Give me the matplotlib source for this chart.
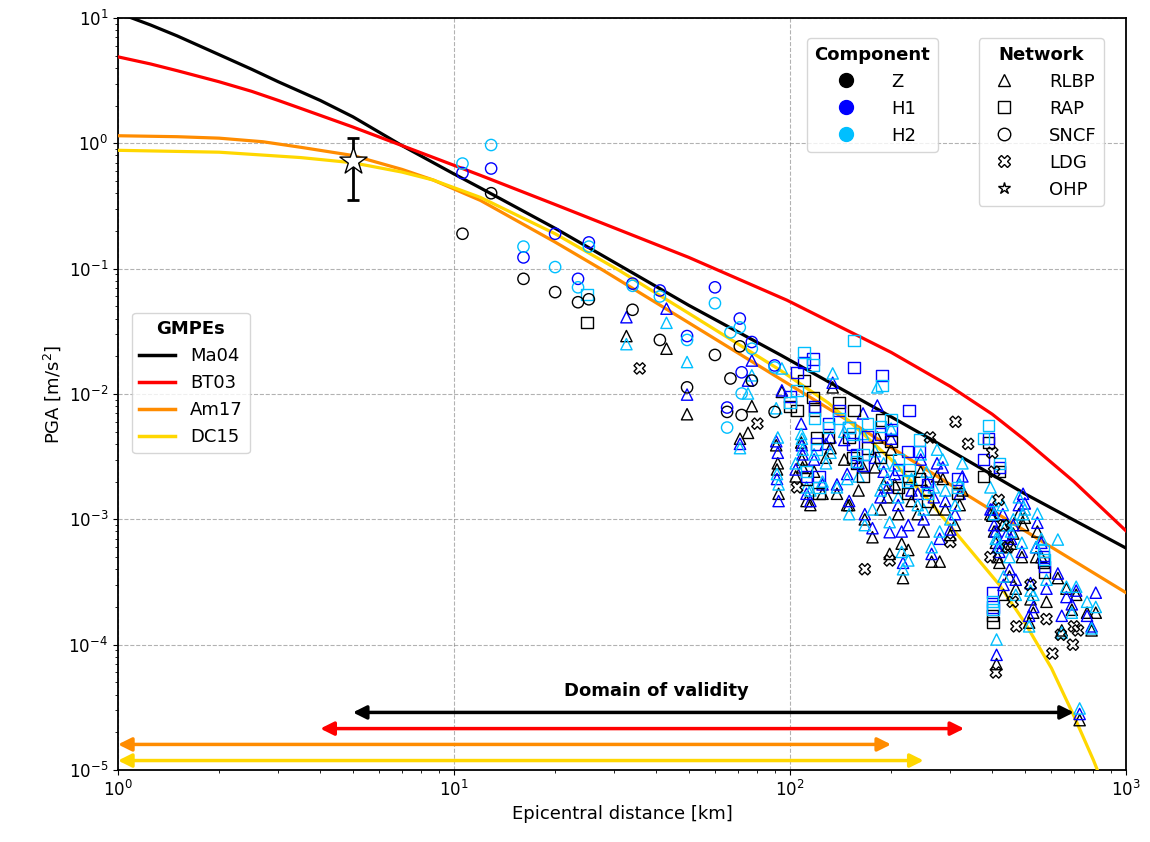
import numpy as np
import matplotlib
matplotlib.use('Agg')
import matplotlib.pyplot as plt
from matplotlib.lines import Line2D
from matplotlib.patches import FancyArrowPatch

nan = np.nan

# GMPE curves
ma04_x = [1, 1.25, 1.5, 2, 2.5, 3, 4, 5, 7, 10, 12, 20, 33, 50, 94, 185, 261, 500, 1000]
ma04_y = [11, 8.8, 7.2, 5.1, 3.9, 3.1, 2.2, 1.63, 0.96, 0.57, 0.44, 0.21, 0.097, 0.051, 0.0204, 0.0074, 0.0044,
          0.0016, 0.00059]

bt03_x = [1, 1.25, 1.5, 2, 2.5, 3, 3.5, 5, 7, 12, 20, 50, 98, 200, 300, 400, 500, 700, 1000]
bt03_y = [4.9, 4.3, 3.8, 3.1, 2.6, 2.2, 1.9, 1.35, 0.96, 0.555, 0.325, 0.123, 0.056, 0.0215, 0.0115, 0.0069,
          0.0043, 0.0020, 0.00081]

am17_x = [1, 1.5, 2, 2.7, 3.5, 5, 7, 8.67, 12, 20, 27.8, 50, 93.5, 161, 320, 594, 1000]
am17_y = [1.15, 1.13, 1.10, 1.03, 0.93, 0.80, 0.62, 0.51, 0.35, 0.163, 0.097, 0.037, 0.0132, 0.0054, 0.0017,
          0.00061, 0.00026]

dc15_x = [1, 2, 3.5, 5, 7, 8.67, 12, 20, 31, 50, 93.5, 130, 160, 200, 260, 330, 420, 500, 600, 700, 800, 850]
dc15_y = [0.88, 0.85, 0.77, 0.70, 0.59, 0.51, 0.37, 0.19, 0.097, 0.044, 0.0155, 0.0085, 0.0052, 0.0030,
          0.0014, 6.5e-4, 3.0e-4, 1.5e-4, 6.5e-5, 2.7e-5, 1.2e-5, 8e-6]

# domain of validity [km]
dom_start = [5, 4, 1, 1]
dom_end = [700, 330, 200, 250]

# RLBP stations: distance, PGA Z / H1 / H2
rlbp_dist = [32.6, 42.9, 49.4, 77, 75, 71, 91, 92, 91.5, 92.5, 94.6, 108, 108.5, 109, 112, 115, 104, 134, 132, 128,
             125, 138, 145, 148, 150, 165, 167, 160, 176, 182, 179, 190, 198, 200, 205, 210, 217, 215, 225, 230,
             240, 250, 264, 279, 274, 300, 290, 326, 320, 395, 400, 405, 410, 415, 420, 412, 430, 440, 450, 462,
             455, 470, 480, 500, 494, 520, 545, 530, 515, 540, 490, 432, 627, 644, 665, 690, 711, 766, 813, 790,
             728, 560, 580, 118, 245, 255, 268, 285, 310, 186, 195]
rlbp_z = [.029, .023, .0069, .0080, .0049, .0044, .0039, .0028, .0025, .0016, .0104, .0041, .0030, .0026, .0014,
          .0013, .0022, .0113, .0037, .0031, .0016, .0016, .0030, .0013, .0013, .0026, .0010, .0017, .00072, .0045,
          .0026, .0019, .00053, .0036, .0019, .0011, .00034, .00064, .00057, .0014, .0011, .0008, .00046, .00046,
          .0022, .00075, .0012, .0017, .0013, .0011, .00107, .0008, .00065, .0005, .00045, 7.0e-5, .0009, .0006,
          .00035, .00077, .00064, .00028, .0011, .00103, .0009, .00023, .0008, .00018, .00015, .0005, .0005,
          .00025, .00034, .00013, .00028, .00019, .00025, .00018, .00018, .00013, 2.5e-5, .0005, .00022, .0024,
          .0024, .0017, .0012, .0021, .0009, .0012, .0015]
rlbp_h1 = [.041, .048, .0099, .0185, .0128, .0040, .0042, .0034, .0021, .0014, .0107, .0058, .0039, .0033, .0016,
           .0014, .0025, .0123, .0045, .0040, .0019, .0019, .0043, .0023, .0014, .0070, .0011, .0028, .00085, .0081,
           .0031, .0024, .00079, .0044, .0023, .0013, .00045, .0008, .0009, .0017, .0016, .0010, .00053, .0007,
           .0028, .00083, .0014, .0022, .0016, .0012, .0012, .0009, .0008, .0006, .00055, 8.3e-5, .0011, .00075,
           .0004, .0009, .0007, .00033, .0013, .00134, .0016, .00031, .00094, .0002, .00017, .0006, .00055,
           .0003, .00037, .00017, .00024, .00021, .00027, .00017, .00026, .00014, 2.8e-5, .00065, .00028, .0030,
           .0030, .0020, .0015, .0026, .0011, .0015, .0018]
rlbp_h2 = [.025, .037, .018, .0141, .0101, .0037, .0077, .0045, .0023, .0019, .016, .0048, .0044, .0036, .0018,
           .0017, .0028, .0146, .0034, .0028, .0020, .0018, .0050, .0021, .0011, .0048, .0009, .0022, .0012, .0113,
           .0035, .0028, .00095, .0053, .0027, .0015, .00040, .00055, .00047, .0021, .0013, .0012, .0006, .0008,
           .0036, .0010, .0017, .0028, .0019, .0018, .0014, .0011, .0007, .0007, .0006, 1.1e-4, .0013, .0009,
           .0005, .0010, .0008, .00025, .0015, .0012, .0011, .00027, .00111, .00025, .00014, .0006, .00065,
           .00035, .00069, .000125, .00029, .00018, .00029, .00022, .0002, .000135, 3.1e-5, .0007, .00033, .0033,
           .0033, .0024, .0018, .0030, .0013, .0017, .0021]

# RAP stations
rap_dist = [24.9, 110, 117, 105, 100, 155, 118.5, 140, 154, 150, 112, 120, 122, 158, 188, 186, 226, 224, 243, 257,
            200, 170, 315, 390, 376, 421, 400, 402, 568, 573, 130, 165, 210]
rap_z = [.037, .0128, .0094, .0074, .0080, .0074, .0074, .0086, .0031, .0045, .0021, .0045, .0016, .0028, .0062,
         .0031, .0022, .0016, .0021, .0014, .0042, .0037, .0016, .0041, .0022, .0024, .00017, .00015, .00045,
         .00038, .0045, .0022, .0018]
rap_h1 = [nan, .0178, .019, .0149, .0095, .0163, .0080, .0074, .0040, .0054, .0022, .0040, .0022, .0033, .0141,
          .0048, .0074, .0035, .0035, .0019, .0052, .0046, .0021, .0044, .0030, .0026, .00026, .00020, .00050,
          .00042, .0058, .0027, .0025]
rap_h2 = [.062, .0215, .017, .0107, .0086, .0268, .0064, .0064, .0048, .0054, .0024, .0036, .0018, .0029, .0117,
          .0055, .0025, .0020, .0043, .0016, .0062, .0058, .0018, .0056, .0044, .0028, .00022, .00019, .00056,
          .00048, .0054, .0033, .0030]

# SNCF stations
sncf_dist = [10.6, 12.9, 16.1, 20, 23.4, 25.2, 34, 41, 49.4, 59.8, 65, 66.5, 70.9, 77, 71.8, 90]
sncf_z = [.19, .40, .083, .065, .054, .057, .047, .027, .0113, .0205, .0072, .0133, .024, .0128, .0068, .0072]
sncf_h1 = [.58, .63, .123, .19, .083, .162, .076, .067, .029, .071, .0078, nan, .040, .026, .0149, .0169]
sncf_h2 = [.69, .97, .15, .103, .071, .15, .073, .060, .027, .053, .0054, .031, .034, .023, .0101, .0163]

# LDG stations (vertical only)
ldg_dist = [35.7, 80, 105, 167, 198, 261, 300, 311, 339, 400, 405, 418, 432, 445, 460, 472, 410, 520, 580, 604,
            695, 700, 720, 395, 640]
ldg_z = [.016, .0058, .0018, .0004, .00047, .0045, .00066, .006, .004, .0034, .0024, .00143, .0009, .0006, .00022,
         .00014, 6e-5, .0003, .00016, 8.5e-5, 1.0e-4, 1.4e-4, 1.3e-4, .0005, .00012]

# OHP station
ohp_dist = 5
ohp_pga = 0.72
ohp_low, ohp_high = 0.35, 1.10

comp_names = ['Z', 'H1', 'H2']
comp_colors = ['black', 'blue', 'deepskyblue']

fig = plt.figure(figsize=(11.5, 8.42), dpi=100)
ax = fig.add_axes([0.1026, 0.0855, 0.8765, 0.8931])
ax.set_xscale('log')
ax.set_yscale('log')

# curves
gmpe = [('Ma04', ma04_x, ma04_y, 'black'), ('BT03', bt03_x, bt03_y, 'red'),
        ('Am17', am17_x, am17_y, 'darkorange'), ('DC15', dc15_x, dc15_y, 'gold')]
for name, gx, gy, c in gmpe:
    ax.plot(gx, gy, color=c, lw=2.3, zorder=3)

# data points
networks = [('^', rlbp_dist, [rlbp_z, rlbp_h1, rlbp_h2]),
            ('s', rap_dist, [rap_z, rap_h1, rap_h2]),
            ('o', sncf_dist, [sncf_z, sncf_h1, sncf_h2]),
            ('X', ldg_dist, [ldg_z])]
for m, d, comps in networks:
    for vals, c in zip(comps, comp_colors):
        ax.scatter(d, vals, marker=m, facecolors='none', edgecolors=c, s=66, lw=1.0, zorder=4)

# OHP star with error bar
ax.errorbar([ohp_dist], [ohp_pga], yerr=[[ohp_pga - ohp_low], [ohp_high - ohp_pga]], fmt='none',
            ecolor='black', elinewidth=2, capsize=4, capthick=2, zorder=5)
ax.scatter([ohp_dist], [ohp_pga], marker='*', s=420, facecolor='white', edgecolor='black', lw=1, zorder=6)

# domain of validity arrows
arrow_levels = [2.88e-5, 2.14e-5, 1.6e-5, 1.19e-5]
for (name, gx, gy, c), x0, x1, yl in zip(gmpe, dom_start, dom_end, arrow_levels):
    arr = FancyArrowPatch((x0, yl), (x1, yl), arrowstyle='<|-|>', color=c, lw=2.5,
                          mutation_scale=20, shrinkA=0, shrinkB=0, zorder=5)
    ax.add_patch(arr)
ax.text(40, 4.3e-5, 'Domain of validity', ha='center', va='center', fontsize=13, fontweight='bold')

ax.set_xlim(1, 1000)
ax.set_ylim(1e-5, 10)
ax.grid(True, which='major', ls='--', color='gray', alpha=0.6, lw=0.8)
ax.tick_params(labelsize=12)
for sp in ax.spines.values():
    sp.set_linewidth(1.3)
ax.set_xlabel('Epicentral distance [km]', fontsize=13)
ax.set_ylabel('PGA [m/s$^2$]', fontsize=13)

# legends
title_font = {'weight': 'bold', 'size': 13}
gmpe_handles = [Line2D([], [], color=c, lw=2.5) for _, _, _, c in gmpe]
leg1 = ax.legend(gmpe_handles, [g[0] for g in gmpe], title='GMPEs', loc='upper left',
                 bbox_to_anchor=(0.005, 0.62), fontsize=13, title_fontproperties=title_font)
ax.add_artist(leg1)

comp_handles = [Line2D([], [], marker='o', ls='none', color=c, markersize=10) for c in comp_colors]
leg2 = ax.legend(comp_handles, comp_names, title='Component', loc='upper left',
                 bbox_to_anchor=(0.675, 0.985), fontsize=13, title_fontproperties=title_font,
                 handletextpad=1.5)
ax.add_artist(leg2)

net_handles = [Line2D([], [], marker=m, ls='none', mfc='none', mec='black', markersize=9)
               for m in ['^', 's', 'o', 'X', '*']]
ax.legend(net_handles, ['RLBP', 'RAP', 'SNCF', 'LDG', 'OHP'], title='Network', loc='upper right',
          bbox_to_anchor=(0.987, 0.985), fontsize=13, title_fontproperties=title_font, handletextpad=1.5)

fig.savefig('out.png', dpi=100)
